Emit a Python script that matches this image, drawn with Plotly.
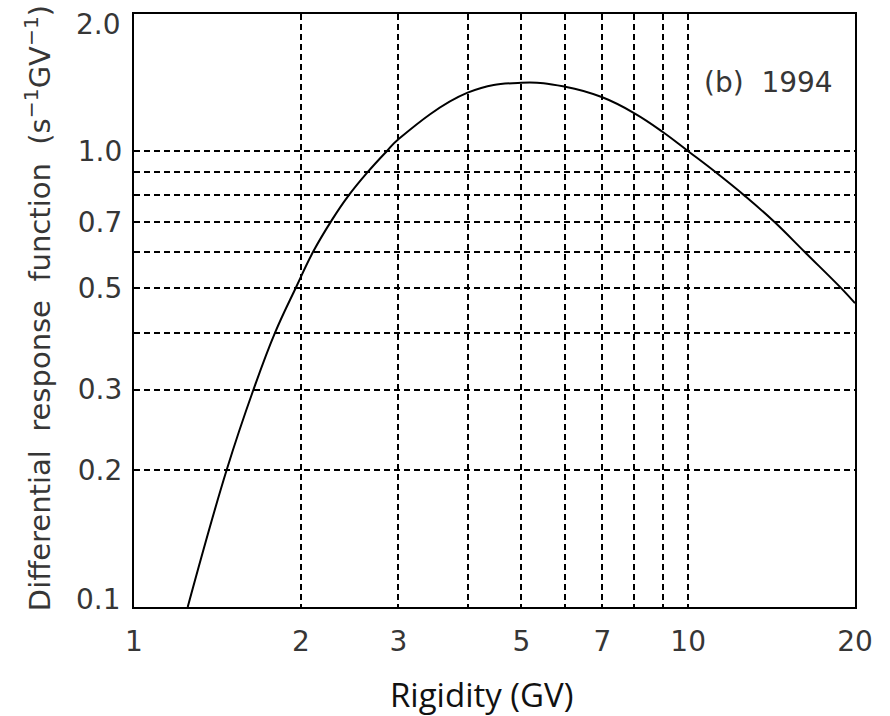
import plotly.graph_objects as go

# Data (rigidity in GV, differential response)
rigidity = [1.25, 1.47, 1.643, 1.797, 1.961, 2.107, 2.275, 2.427, 2.63, 2.858, 3.0,
            4.0, 5.0, 6.0, 7.0, 8.0, 9.0, 10.0, 11.2, 12.7, 14.3, 16.25, 18.9, 20.0]
response = [0.100, 0.200, 0.300, 0.400, 0.503, 0.603, 0.706, 0.793, 0.895, 1.000, 1.062,
            1.344, 1.413, 1.385, 1.313, 1.211, 1.102, 1.000, 0.900, 0.795, 0.700, 0.600, 0.500, 0.464]

x_tickvals = [1, 2, 3, 5, 7, 10, 20]
x_ticktext = ["1", "2", "3", "5", "7", "10", "20"]
y_tickvals = [0.2, 0.3, 0.5, 0.7, 1.0]
y_ticktext = ["0.2", "0.3", "0.5", "0.7", "1.0"]
# edge labels are drawn inside the frame extent (as in the reference)
y_edge_labels = {"0.1": (0.0, 8), "2.0": (1.0, -10)}

text_color = "#363636"
tick_font = dict(family="DejaVu Sans", size=28, color=text_color)
grid_style = dict(gridcolor="black", gridwidth=1.7, griddash="6px,4px")

fig = go.Figure()
fig.add_trace(go.Scatter(
    x=rigidity, y=response, mode="lines",
    line=dict(color="black", width=2, shape="spline", smoothing=1.2),
    showlegend=False, hoverinfo="skip",
))

axis_common = dict(
    type="log", automargin=False,
    showline=True, mirror=True, linecolor="black", linewidth=2.2,
    showgrid=True, **grid_style,
    minor=dict(dtick="D1", showgrid=True, ticks="", **grid_style),
    ticks="outside", tickcolor="rgba(0,0,0,0)",
    tickfont=tick_font, zeroline=False, ticklabeloverflow="allow",
)

fig.update_xaxes(
    **axis_common,
    ticklen=8,
    range=[0, 1.30103],
    tickmode="array", tickvals=x_tickvals, ticktext=x_ticktext,
)
fig.update_yaxes(
    **axis_common,
    ticklen=4,
    range=[-1, 0.30103],
    tickmode="array", tickvals=y_tickvals, ticktext=y_ticktext,
)

for label, (ypos, shift) in y_edge_labels.items():
    fig.add_annotation(
        text=label, xref="paper", yref="paper", x=0, y=ypos,
        xanchor="right", yanchor="middle", xshift=-11, yshift=shift,
        showarrow=False, font=tick_font,
    )

# y-axis title
fig.add_annotation(
    text="Differential\u00a0 response\u00a0 function\u00a0 (s<sup>\u22121</sup>GV<sup>\u22121</sup>)",
    xref="paper", yref="paper", x=-0.1331, y=0.504, textangle=-90,
    xanchor="center", yanchor="middle", showarrow=False,
    font=dict(family="DejaVu Sans", size=29, color=text_color),
)

# x-axis title (placed slightly left of the plot centre, as in the reference)
fig.add_annotation(
    text="Rigidity (GV)", xref="paper", yref="paper", x=0.482, y=-0.147,
    xanchor="center", yanchor="middle", showarrow=False,
    font=dict(family="Open Sans", size=33, color="#111111"),
)

fig.add_annotation(
    text="(b)\u00a0 1994", xref="paper", yref="paper", x=0.972, y=0.885,
    xanchor="right", yanchor="middle", showarrow=False,
    font=dict(family="DejaVu Sans", size=28, color=text_color),
)

fig.update_layout(
    width=890, height=716,
    margin=dict(l=134, r=35, t=14, b=109),
    paper_bgcolor="white", plot_bgcolor="white",
)

fig.write_html("out.html")
